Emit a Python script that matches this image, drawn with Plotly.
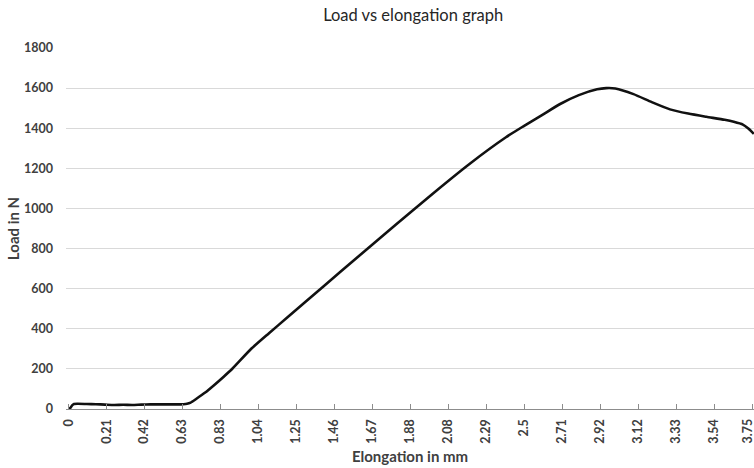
import plotly.graph_objects as go

# Data
elongation_mm = [0, 0.01, 0.02, 0.03, 0.05, 0.10, 0.15, 0.20, 0.25, 0.30, 0.35, 0.40,
                 0.45, 0.50, 0.55, 0.60, 0.63, 0.65, 0.67, 0.70, 0.75, 0.80, 0.85, 0.90,
                 1.00, 1.10, 1.20, 1.40, 1.60, 1.80, 2.00, 2.20, 2.40, 2.50, 2.60, 2.70,
                 2.80, 2.90, 2.95, 3.00, 3.10, 3.20, 3.30, 3.40, 3.50, 3.60, 3.65, 3.70,
                 3.73, 3.76]
load_n = [0, 5, 18, 25, 26, 25, 24, 22, 20, 21, 20, 22,
          23, 23, 23, 23, 24, 26, 32, 50, 82, 120, 160, 202,
          298, 378, 456, 612, 768, 922, 1075, 1222, 1355, 1412, 1467, 1522,
          1565, 1594, 1600, 1598, 1570, 1530, 1494, 1473, 1457, 1442, 1432, 1418,
          1398, 1372]

x_tick_labels = ["0", "0.21", "0.42", "0.63", "0.83", "1.04", "1.25", "1.46", "1.67",
                 "1.88", "2.08", "2.29", "2.5", "2.71", "2.92", "3.12", "3.33", "3.54", "3.75"]
x_tick_positions = [i * 3.75 / 18 for i in range(len(x_tick_labels))]
y_tick_values = [0, 200, 400, 600, 800, 1000, 1200, 1400, 1600, 1800]

text_color = "#404040"
font_family = "Lato, Open Sans, sans-serif"
tick_font = dict(size=12.5, color=text_color, family=font_family, weight="bold")

fig = go.Figure()
fig.add_trace(go.Scatter(
    x=elongation_mm, y=load_n, mode="lines",
    line=dict(color="#111111", width=2.6, shape="spline", smoothing=0.6),
    showlegend=False, hoverinfo="x+y",
))

fig.update_layout(
    width=754, height=468,
    margin=dict(l=66, r=0, t=48, b=59),
    paper_bgcolor="white", plot_bgcolor="white",
    font=dict(family=font_family, color=text_color),
    title=dict(text="Load vs elongation graph", x=0.548, xanchor="center",
               y=1 - 15 / 468, yref="container", yanchor="middle",
               font=dict(size=16.5, color="#262626", family=font_family)),
    showlegend=False,
)

fig.update_xaxes(
    range=[-0.0137, 3.761],
    tickmode="array", tickvals=x_tick_positions, ticktext=x_tick_labels,
    tickangle=-90, tickfont=tick_font,
    showgrid=False, zeroline=False,
    showline=True, linecolor="#8c8c8c", linewidth=1.3,
    ticks="inside", ticklen=5, tickcolor="#8c8c8c", tickwidth=1.2,
    ticklabelstandoff=4,
    title=dict(text="Elongation in mm", standoff=8,
               font=dict(size=15, color=text_color, family=font_family, weight="bold")),
)

fig.update_yaxes(
    range=[0, 1800],
    tickmode="array", tickvals=y_tick_values,
    tickfont=tick_font,
    showgrid=True, gridcolor="#d9d9d9", gridwidth=1,
    zeroline=False, showline=False, ticks="",
    ticklabelstandoff=12,
    title=dict(text="Load in N", standoff=0,
               font=dict(size=15, color=text_color, family=font_family, weight="bold")),
)

# Last category label sits at the right edge, as in the reference
fig.add_annotation(
    x=x_tick_positions[-1], y=0, xref="x", yref="y",
    text=x_tick_labels[-1], textangle=-90, showarrow=False,
    xanchor="center", yanchor="top", yshift=-8, xshift=-5,
    font=tick_font,
)

fig.write_html("out.html")
